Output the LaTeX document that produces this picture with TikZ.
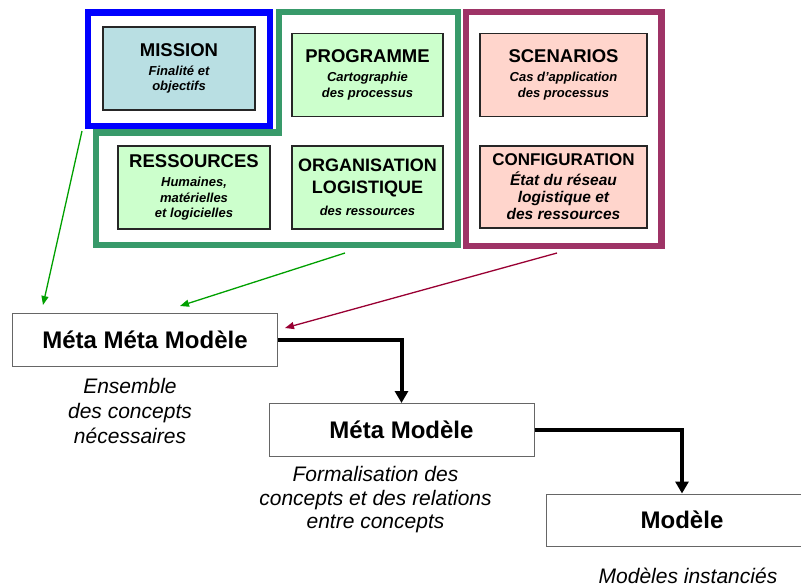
\documentclass[tikz,border=0pt]{standalone}
\usepackage{fontspec}
\setmainfont{Liberation Sans}
\usetikzlibrary{positioning,arrows.meta}

\definecolor{frblue}{HTML}{0000FF}
\definecolor{frgreen}{HTML}{389A6A}
\definecolor{frpurple}{HTML}{9E3366}
\definecolor{missionfill}{HTML}{B9DFE3}
\definecolor{greenfill}{HTML}{CCFFCC}
\definecolor{pinkfill}{HTML}{FFD5CC}
\definecolor{feedgreen}{HTML}{00A000}
\definecolor{feedpurple}{HTML}{990033}

\newcommand{\boxhead}{\fontsize{18.5}{21}\selectfont\bfseries\upshape}
\newcommand{\boxsub}{\fontsize{13}{15.5}\selectfont\bfseries\itshape}

\begin{document}
\begin{tikzpicture}[x=1pt, y=-1pt,
frame/.style={line width=6.5pt},
box/.style={draw=black!85, line width=1.2pt, align=center, inner sep=0pt, minimum width=152pt, minimum height=83pt, font=\boxsub},
greenbox/.style={box, fill=greenfill},
pinkbox/.style={box, fill=pinkfill, minimum width=167pt},
level/.style={draw=black!60, line width=1pt, fill=white, minimum width=265pt, minimum height=53pt, inner sep=0pt, font=\fontsize{24}{28}\selectfont\bfseries},
note/.style={align=center, inner sep=0pt, font=\fontsize{21}{25}\selectfont\itshape},
flow/.style={line width=4pt, -{Triangle[width=13pt,length=12pt]}},
feed/.style={line width=1.3pt, -{Triangle[width=7pt,length=9pt]}}
]
\useasboundingbox (0,0) rectangle (801,587);
%Frames
\draw[frame, frblue]   (88,12.5) rectangle (270,126);
\draw[frame, frgreen]  (279,12) -- (458,12) -- (458,245) -- (96,245) -- (96,132.5) -- (279,132.5) -- cycle;
\draw[frame, frpurple] (466,12) rectangle (661.5,246);
%Nodes
\node[box, fill=missionfill] (mission) at (179,68.5)
  {{\boxhead MISSION}\\[3.5pt]Finalité et\\objectifs};
\node[greenbox, minimum width=151pt] (prog) at (367.5,75)
  {{\boxhead PROGRAMME}\\[3.5pt]Cartographie\\des processus};
\node[pinkbox] (scen) [right of=prog, node distance=196pt]
  {{\boxhead SCENARIOS}\\[3.5pt]Cas d'application\\des processus};
\node[greenbox] (ress) at (194,187.5)
  {{\boxhead RESSOURCES}\\[4pt]Humaines,\\matérielles\\et logicielles};
\node[greenbox, minimum width=151pt] (orga) [below of=prog, node distance=112.5pt]
  {{\fontsize{18}{21}\selectfont\bfseries\upshape ORGANISATION}\\[6.5pt]{\fontsize{18}{21}\selectfont\bfseries\upshape LOGISTIQUE}\\[6.5pt]des ressources};
\node[pinkbox, minimum height=82pt, font=\fontsize{15.5}{17}\selectfont\bfseries\itshape] (config) [below of=scen, node distance=112pt]
  {{\fontsize{17}{20}\selectfont\bfseries\upshape CONFIGURATION}\\[3pt]État du réseau\\logistique et\\des ressources};

\node[level] (mmm) at (145,339.5) {Méta Méta Modèle};
\node[level] (mm) at (401.5,430) {Méta Modèle};
\node[level, minimum width=272pt, minimum height=52pt] (mod) at (682,520) {Modèle};

\node[note] (ens) at (130,411) {Ensemble\\des concepts\\nécessaires};
\node[note, font=\fontsize{21}{23.5}\selectfont\itshape] (form) at (375.5,500) {Formalisation des\\concepts et des relations\\entre concepts};
\node[note, anchor=base] (inst) at (688,583) {Modèles instanciés};

\coordinate (from1) at (82,131);
\coordinate (to1) at (43,305);
\coordinate (from2) at (345,253);
\coordinate (to2) at (180,306);
\coordinate (from3) at (557,253);
\coordinate (to3) at (285,328);
%Lines
\draw[feed, feedgreen] (from1) -- (to1);
\draw[feed, feedgreen] (from2) -- (to2);
\draw[feed, feedpurple] (from3) -- (to3);
\draw[flow] (mmm.east) -| (mm.north);
\draw[flow] (mm.east) -| (mod.north);
\end{tikzpicture}
\end{document}
